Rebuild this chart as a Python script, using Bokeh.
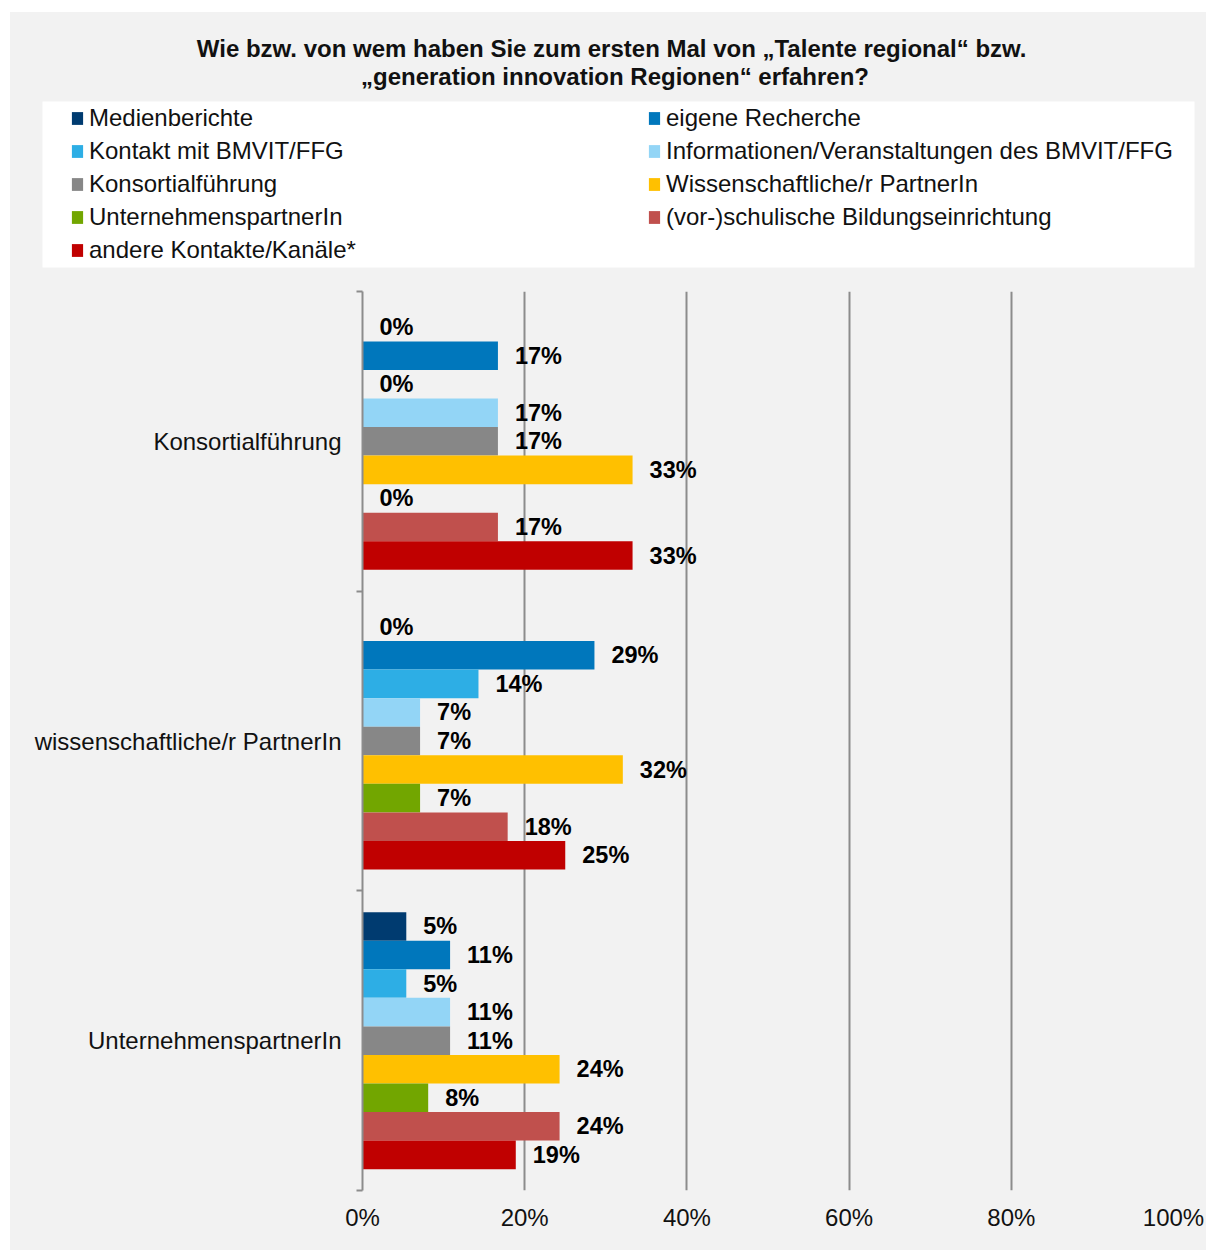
from bokeh.plotting import figure
from bokeh.layouts import column
from bokeh.models import (Range1d, ColumnDataSource, Legend, LegendItem, LinearAxis,
                          FixedTicker, PrintfTickFormatter, Label, BoxAnnotation)
from bokeh.transform import dodge
from bokeh.core.properties import value
from bokeh.embed import file_html
from bokeh.resources import INLINE

# ---------------- data ----------------
categories = ["Konsortialführung", "wissenschaftliche/r PartnerIn", "UnternehmenspartnerIn"]

series_names = [
    "Medienberichte",
    "eigene Recherche",
    "Kontakt mit BMVIT/FFG",
    "Informationen/Veranstaltungen des BMVIT/FFG",
    "Konsortialführung",
    "Wissenschaftliche/r PartnerIn",
    "UnternehmenspartnerIn",
    "(vor-)schulische Bildungseinrichtung",
    "andere Kontakte/Kanäle*",
]

medienberichte = [0.0, 0.0, 5.4]
eigene_recherche = [16.7, 28.6, 10.8]
kontakt_bmvit_ffg = [0.0, 14.3, 5.4]
informationen_veranstaltungen = [16.7, 7.1, 10.8]
konsortialfuehrung = [16.7, 7.1, 10.8]
wissenschaftliche_partnerin = [33.3, 32.1, 24.3]
unternehmenspartnerin = [0.0, 7.1, 8.1]
schulische_bildung = [16.7, 17.9, 24.3]
andere_kontakte = [33.3, 25.0, 18.9]

series_values = [medienberichte, eigene_recherche, kontakt_bmvit_ffg, informationen_veranstaltungen,
                 konsortialfuehrung, wissenschaftliche_partnerin, unternehmenspartnerin,
                 schulische_bildung, andere_kontakte]

colors = ["#003B70", "#0077BC", "#2DAEE5", "#93D5F6", "#878787", "#FFC000", "#72A600", "#C0504D", "#C00000"]

x_ticks = [0, 20, 40, 60, 80, 100]

title_lines = ["Wie bzw. von wem  haben Sie zum ersten Mal von \u201eTalente regional\u201c bzw.",
               "\u201egeneration innovation Regionen\u201c erfahren?"]

# ---------------- style ----------------
FONT = "Liberation Sans"
BG = "#F2F2F2"
GRID = "#8C8C8C"
TXT = "#111111"
W = 1196
H_HEAD = 271
H_MAIN = 967

# ---------------- header: title + legend ----------------
head = figure(width=W, height=H_HEAD, x_range=Range1d(0, W), y_range=Range1d(H_HEAD, 0),
              output_backend="svg", toolbar_location=None, x_axis_location=None, y_axis_location=None,
              min_border=0, background_fill_color=BG, border_fill_color=BG, outline_line_color=None)
head.xgrid.visible = False
head.ygrid.visible = False

for j, line in enumerate(title_lines):
    head.add_layout(Label(x=604.5, y=36 + 28 * j, text=line,
                          text_align="center", text_baseline="middle", text_font=FONT,
                          text_font_style="bold", text_font_size="24px", text_color=TXT))

head.add_layout(BoxAnnotation(left=32, right=1184, top=89, bottom=255,
                              fill_color="white", fill_alpha=1.0, line_color=None, level="underlay"))

# invisible (zero-size) renderers that only carry the legend swatches
items = []
for name, col in zip(series_names, colors):
    r = head.hbar(y=[0], left=[0], right=[0], height=0, fill_color=col, line_color=None)
    items.append(LegendItem(label=name, renderers=[r]))

legend = Legend(items=items, orientation="horizontal", ncols=2, location=(60, 19),
                background_fill_alpha=0, border_line_color=None, padding=0, margin=0, spacing=5,
                glyph_width=14, glyph_height=16, label_standoff=5, label_width=553, label_height=28,
                label_text_font=FONT, label_text_font_size="24px", label_text_color=TXT,
                click_policy="none")
head.add_layout(legend, "center")

# ---------------- main chart ----------------
n_cat = len(categories)
cat_pos = [n_cat - 0.5 - k for k in range(n_cat)]   # first category on top

p = figure(width=W, height=H_MAIN,
           y_range=Range1d(0, n_cat), x_range=Range1d(0, 100),
           output_backend="svg", toolbar_location=None, y_axis_location=None,
           min_border_left=352, min_border_right=33, min_border_top=8, min_border_bottom=60,
           background_fill_color=BG, border_fill_color=BG, outline_line_color=None)

for f in (head, p):
    try:
        f.frame_align = False
    except Exception:
        pass

xa = p.xaxis[0]
xa.ticker = FixedTicker(ticks=x_ticks)
xa.formatter = PrintfTickFormatter(format="%d%%")
xa.axis_line_color = None
xa.major_tick_line_color = None
xa.minor_tick_line_color = None
xa.major_tick_out = 0
xa.major_tick_in = 0
xa.major_label_standoff = 13
xa.major_label_text_font = FONT
xa.major_label_text_font_size = "24px"
xa.major_label_text_color = TXT

p.xgrid.grid_line_color = GRID
p.xgrid.grid_line_width = 2
p.ygrid.grid_line_color = None

tick_axis = LinearAxis(ticker=FixedTicker(ticks=list(range(n_cat + 1))),
                       major_label_text_font_size="0px",
                       major_label_overrides={i: "" for i in range(n_cat + 1)},
                       major_label_standoff=0, major_tick_out=6, major_tick_in=0,
                       minor_tick_line_color=None, axis_line_color=GRID, axis_line_width=2,
                       major_tick_line_color=GRID, major_tick_line_width=2)
p.add_layout(tick_axis, "left")

cat_axis = LinearAxis(ticker=FixedTicker(ticks=cat_pos),
                      major_label_overrides={float(y): c for y, c in zip(cat_pos, categories)},
                      axis_line_color=None, major_tick_line_color=None, minor_tick_line_color=None,
                      major_tick_out=0, major_tick_in=0,
                      major_label_standoff=15, major_label_text_font=FONT,
                      major_label_text_font_size="24px", major_label_text_color=TXT)
p.add_layout(cat_axis, "left")

bar_h = 0.0953
for i, (name, vals, col) in enumerate(zip(series_names, series_values, colors)):
    src = ColumnDataSource(dict(pos=cat_pos, val=vals, lab=[f"{round(v)}%" for v in vals]))
    off = (4 - i) * bar_h
    p.hbar(y=dodge("pos", off), left=0, right="val", height=bar_h,
           source=src, fill_color=col, line_color=None, name=name)
    p.text(x="val", y=dodge("pos", off), text="lab", source=src,
           x_offset=17, text_align="left", text_baseline="middle",
           text_font=value(FONT), text_font_style="bold", text_font_size="23.5px", text_color="#000000")

layout = column(head, p, spacing=0, margin=(12, 2, 2, 10), styles={"background-color": BG})

open("out.html", "w").write(file_html(layout, INLINE))
